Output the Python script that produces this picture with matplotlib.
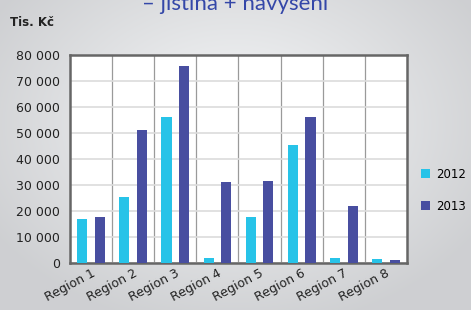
import numpy as np
import matplotlib.pyplot as plt
from matplotlib.ticker import FuncFormatter, MultipleLocator

regions = ["Region 1", "Region 2", "Region 3", "Region 4",
           "Region 5", "Region 6", "Region 7", "Region 8"]
y2012 = [16900, 25400, 56200, 1900, 17700, 45400, 1900, 1500]
y2013 = [17700, 51200, 75900, 31200, 31500, 56200, 21900, 1100]

c2012 = "#27c3e8"
c2013 = "#484ea0"

fig = plt.figure(figsize=(4.71, 3.10), dpi=100)

# gray background with lighter centre
bg = fig.add_axes([0, 0, 1, 1], zorder=-10)
xx = np.linspace(-1, 1, 400)
yy = np.linspace(-1, 1, 300)
X, Y = np.meshgrid(xx, yy)
r = np.sqrt((X * 1.0) ** 2 + ((Y + 0.2) * 0.9) ** 2)
img = np.clip(1 - r / 1.2, 0, 1)
lo = np.array([0.81, 0.815, 0.825])
hi = np.array([0.965, 0.97, 0.975])
rgb = lo + (hi - lo) * img[..., None]
bg.imshow(rgb, aspect="auto", extent=[0, 1, 0, 1])
bg.axis("off")

ax = fig.add_axes([70 / 471, 1 - 263 / 310, 337 / 471, 208 / 310])
x = np.arange(len(regions))
w = 0.24
ax.bar(x - 0.21, y2012, w, color=c2012, label="2012", zorder=3)
ax.bar(x + 0.21, y2013, w, color=c2013, label="2013", zorder=3)

ax.set_xlim(-0.5, len(regions) - 0.5)
ax.set_ylim(0, 80000)
ax.set_facecolor("white")
ax.yaxis.set_major_locator(MultipleLocator(10000))
ax.yaxis.set_major_formatter(FuncFormatter(lambda v, p: f"{int(v):,}".replace(",", " ")))
ax.grid(axis="y", color="#dcdcdc", lw=1.2, zorder=0)
for b in np.arange(0.5, len(regions) - 0.5, 1):
    ax.axvline(b, color="#9a9a9a", lw=0.9, zorder=1)
for s in ax.spines.values():
    s.set_color("#666666")
    s.set_linewidth(1.8)
ax.set_xticks(x)
ax.set_xticklabels(regions, rotation=28, ha="right", rotation_mode="anchor",
                   fontsize=9, color="#222222")
ax.tick_params(axis="x", length=0, pad=3)
ax.tick_params(axis="y", length=0, labelsize=9, pad=7, labelcolor="#222222")

fig.text(10 / 471, 1 - 22 / 310, "Tis. Kč", fontsize=8.5, fontweight="bold",
         va="center", ha="left", color="#222222")
fig.text(235 / 471, 1 - 10 / 310, "– jistina + navýšení", fontsize=16,
         va="baseline", ha="center", color="#3447a8", family="Lato")

ax.legend(loc="center left", bbox_to_anchor=(1.03, 0.35), frameon=False,
          fontsize=8.5, handlelength=0.8, handleheight=0.8, labelspacing=1.6,
          handletextpad=0.5, borderaxespad=0, borderpad=0.3)

fig.savefig("out.png", dpi=100)
